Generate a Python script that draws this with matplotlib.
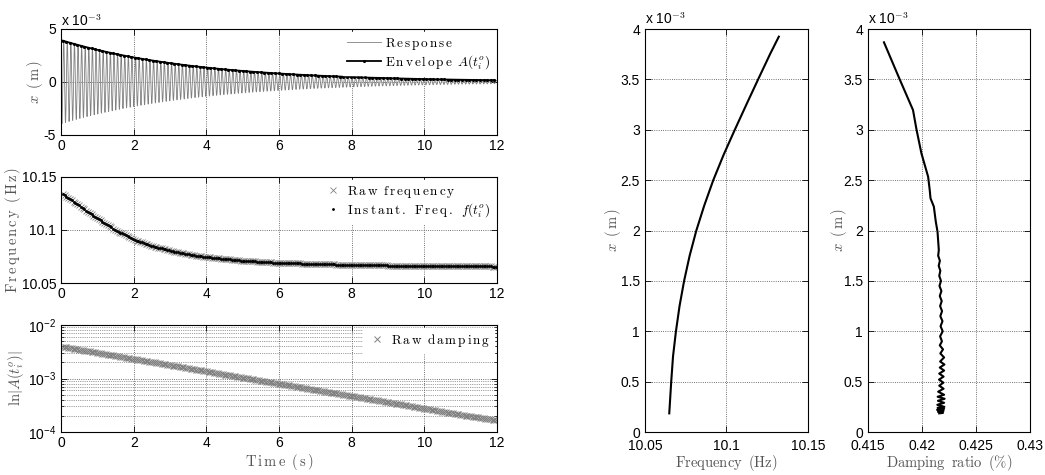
import numpy as np
import matplotlib.pyplot as plt
from matplotlib.ticker import FuncFormatter, LogLocator, NullFormatter

plt.rcParams['font.family'] = 'Liberation Sans'
plt.rcParams['mathtext.fontset'] = 'cm'
plt.rcParams['font.size'] = 10

# readings
t_env = [0, 1, 2, 3, 4, 5, 6, 7, 8, 9, 10, 11, 12]
env_amp = [3.95e-3, 3.03e-3, 2.32e-3, 1.78e-3, 1.36e-3, 1.04e-3, 0.80e-3,
           0.61e-3, 0.47e-3, 0.36e-3, 0.275e-3, 0.21e-3, 0.165e-3]

t_freq = [0.05, 0.5, 1, 1.5, 2, 2.5, 3, 3.5, 4, 5, 6, 7, 8, 9, 10, 11, 12]
freq_hz = [10.134, 10.123, 10.111, 10.100, 10.091, 10.085, 10.0805, 10.077,
           10.0745, 10.071, 10.069, 10.068, 10.067, 10.0665, 10.066, 10.066,
           10.0655]

fa_freq = [10.0649, 10.0661, 10.0672, 10.0690, 10.0712, 10.0740, 10.0774,
           10.0815, 10.0864, 10.0919, 10.0982, 10.1051, 10.1122, 10.1194,
           10.1267, 10.1321]
fa_amp = [0.185e-3, 0.5e-3, 0.75e-3, 1.0e-3, 1.25e-3, 1.5e-3, 1.75e-3,
          2.0e-3, 2.25e-3, 2.5e-3, 2.75e-3, 3.0e-3, 3.25e-3, 3.5e-3,
          3.75e-3, 3.924e-3]

za_zeta = [0.41648, 0.41794, 0.41917, 0.41949, 0.41995, 0.42057, 0.42072,
           0.42079, 0.42110, 0.42128, 0.42144, 0.42156,
           0.42150, 0.42166, 0.42155, 0.42170, 0.42160, 0.42176, 0.42162,
           0.42180, 0.42165, 0.42183, 0.42168, 0.42186, 0.42170, 0.42190,
           0.42172, 0.42192, 0.42168, 0.42185, 0.42165, 0.42195, 0.42170,
           0.42205, 0.42168, 0.42208, 0.42165, 0.42205, 0.42160, 0.42200,
           0.42158, 0.42198, 0.42160, 0.42200, 0.42150, 0.42205, 0.42145,
           0.42210, 0.42148, 0.42205, 0.42142, 0.42208, 0.42145, 0.42205,
           0.42140, 0.42200, 0.42148, 0.42195, 0.42160]
za_amp = [3.868e-3, 3.50e-3, 3.196e-3, 3.004e-3, 2.766e-3, 2.534e-3, 2.40e-3,
          2.32e-3, 2.237e-3, 2.088e-3, 1.988e-3, 1.806e-3,
          1.75e-3, 1.70e-3, 1.65e-3, 1.60e-3, 1.55e-3, 1.50e-3, 1.45e-3,
          1.40e-3, 1.35e-3, 1.30e-3, 1.25e-3, 1.20e-3, 1.15e-3, 1.10e-3,
          1.05e-3, 1.00e-3, 0.95e-3, 0.90e-3, 0.86e-3, 0.82e-3, 0.78e-3,
          0.74e-3, 0.70e-3, 0.67e-3, 0.64e-3, 0.61e-3, 0.58e-3, 0.55e-3,
          0.52e-3, 0.49e-3, 0.46e-3, 0.43e-3, 0.40e-3, 0.37e-3, 0.35e-3,
          0.33e-3, 0.31e-3, 0.29e-3, 0.27e-3, 0.25e-3, 0.24e-3, 0.23e-3,
          0.22e-3, 0.21e-3, 0.20e-3, 0.19e-3, 0.185e-3]

GRAY = '#808080'
LABEL = '#555555'


def spaced(s, math=''):
    # MATLAB-like letter-spaced latex label
    body = ''
    for i, ch in enumerate(s):
        if ch == ' ':
            body += r'\;\;'
        else:
            if i > 0 and s[i - 1] != ' ':
                body += r'\,'
            body += ch
    return r'$\mathrm{' + body + '}' + math + '$'


def style(ax, pad=3):
    ax.tick_params(direction='in', top=True, right=True, length=4, width=0.6,
                   labelsize=10)
    ax.tick_params(axis='x', pad=pad)
    ax.tick_params(which='minor', direction='in', top=True, right=True,
                   length=2, width=0.5)
    for sp in ax.spines.values():
        sp.set_linewidth(0.8)
    ax.grid(True, which='major', linestyle=':', color='#444444', linewidth=0.6)


milli = FuncFormatter(lambda v, p: f'{v * 1e3:g}')
plain = FuncFormatter(lambda v, p: f'{v:g}')

# dense sampling derived from readings
t_fine = np.linspace(0, 12, 24000)
amp_fine = np.exp(np.interp(t_fine, t_env, np.log(env_amp)))
freq_fine = np.interp(t_fine, t_freq, freq_hz)
phase = 2 * np.pi * np.cumsum(freq_fine) * (t_fine[1] - t_fine[0])
resp = -amp_fine * np.sin(phase)

t_half = np.arange(0.05, 12.0, 0.0495)
f_half = np.interp(t_half, t_freq, freq_hz)
a_half = np.exp(np.interp(t_half, t_env, np.log(env_amp)))
t_peak = np.arange(0.05, 12.0, 0.099)
a_peak = np.exp(np.interp(t_peak, t_env, np.log(env_amp)))

fig = plt.figure(figsize=(10.45, 4.75), dpi=100)
ax1 = fig.add_axes([0.0584, 0.7158, 0.4172, 0.2232])
ax2 = fig.add_axes([0.0584, 0.4042, 0.4172, 0.2232])
ax3 = fig.add_axes([0.0584, 0.0905, 0.4172, 0.2253])
ax4 = fig.add_axes([0.6172, 0.0905, 0.1560, 0.8484])
ax5 = fig.add_axes([0.8306, 0.0905, 0.1550, 0.8484])

leg_kw = dict(frameon=True, framealpha=1, edgecolor='white', fancybox=False,
              borderaxespad=0.2, handletextpad=0.3, labelspacing=0.1,
              fontsize=9.5, borderpad=0.3)

xm_label = spaced('', r'x\;\;(\,\mathrm{m}\,)')

# top: response and envelope
ax1.plot(t_fine, resp, color=GRAY, lw=0.6, label=spaced('Response'))
ax1.plot(t_peak, a_peak, '.-', color='black', lw=1.3, ms=2.5,
         label=spaced('Envelope', r'\;\;A(t_i^o)'))
ax1.set_xlim(0, 12)
ax1.set_ylim(-5e-3, 5e-3)
ax1.set_yticks([-5e-3, 0, 5e-3])
ax1.yaxis.set_major_formatter(milli)
ax1.set_xticks(range(0, 13, 2))
style(ax1)
ax1.set_ylabel(xm_label, color=LABEL, fontsize=10.5)
ax1.yaxis.set_label_coords(-0.036, 0.5)
ax1.text(0.0, 1.03, r'x 10$^{-3}$', transform=ax1.transAxes, fontsize=10)
ax1.legend(loc='upper right', handlelength=2.6, **leg_kw)

# middle: frequency
ax2.plot(t_half, f_half, 'x', color=GRAY, ms=4.5, mew=0.6,
         label=spaced('Raw frequency'))
ax2.plot(t_half, f_half, '.', color='black', ms=2,
         label=spaced('Instant. Freq.', r'\;\;f(t_i^o)'))
ax2.set_xlim(0, 12)
ax2.set_ylim(10.05, 10.15)
ax2.set_yticks([10.05, 10.1, 10.15])
ax2.yaxis.set_major_formatter(plain)
ax2.set_xticks(range(0, 13, 2))
style(ax2)
ax2.set_ylabel(spaced('Frequency (Hz)'), color=LABEL, fontsize=10.5)
ax2.yaxis.set_label_coords(-0.087, 0.5)
ax2.legend(loc='upper right', handlelength=1.5, **leg_kw)

# bottom: raw damping on log scale
ax3.semilogy(t_half, a_half, 'x', color=GRAY, ms=5, mew=0.7,
             label=spaced('Raw damping'))
ax3.set_xlim(0, 12)
ax3.set_ylim(1e-4, 1e-2)
ax3.yaxis.set_major_locator(LogLocator(base=10, numticks=5))
ax3.yaxis.set_minor_locator(LogLocator(base=10, subs=np.arange(2, 10), numticks=12))
ax3.yaxis.set_minor_formatter(NullFormatter())
ax3.set_xticks(range(0, 13, 2))
style(ax3)
ax3.grid(True, which='minor', axis='y', linestyle=':', color='#444444', linewidth=0.5)
ax3.set_ylabel(spaced('', r'\ln|A(t_i^o)|'), color=LABEL, fontsize=10.5)
ax3.yaxis.set_label_coords(-0.080, 0.5)
ax3.set_xlabel(spaced('Time (s)'), color=LABEL, fontsize=10.5, labelpad=1)
ax3.legend(loc='upper right', handlelength=1.5, **leg_kw)

# right: amplitude vs frequency
ax4.plot(fa_freq, fa_amp, color='black', lw=1.5)
ax4.set_xlim(10.05, 10.15)
ax4.set_xticks([10.05, 10.1, 10.15])
ax4.xaxis.set_major_formatter(plain)
ax4.set_ylim(0, 4e-3)
ax4.set_yticks(np.arange(0, 4.01e-3, 0.5e-3))
ax4.yaxis.set_major_formatter(milli)
style(ax4, pad=5)
ax4.set_xlabel(r'$\mathrm{Frequency\;\;(Hz)}$', color=LABEL, fontsize=10.5, labelpad=0)
ax4.set_ylabel(xm_label, color=LABEL, fontsize=10.5)
ax4.yaxis.set_label_coords(-0.135, 0.5)
ax4.text(0.0, 1.012, r'x 10$^{-3}$', transform=ax4.transAxes, fontsize=10)

# right: amplitude vs damping ratio
ax5.plot(za_zeta, za_amp, color='black', lw=1.5)
ax5.set_xlim(0.415, 0.43)
ax5.set_xticks([0.415, 0.42, 0.425, 0.43])
ax5.xaxis.set_major_formatter(plain)
ax5.set_ylim(0, 4e-3)
ax5.set_yticks(np.arange(0, 4.01e-3, 0.5e-3))
ax5.yaxis.set_major_formatter(milli)
style(ax5, pad=5)
ax5.set_xlabel(r'$\mathrm{Damping\;\;ratio\;\;(\%)}$', color=LABEL, fontsize=10.5, labelpad=0)
ax5.set_ylabel(xm_label, color=LABEL, fontsize=10.5)
ax5.yaxis.set_label_coords(-0.117, 0.5)
ax5.text(0.0, 1.012, r'x 10$^{-3}$', transform=ax5.transAxes, fontsize=10)

fig.savefig('out.png', dpi=100)
